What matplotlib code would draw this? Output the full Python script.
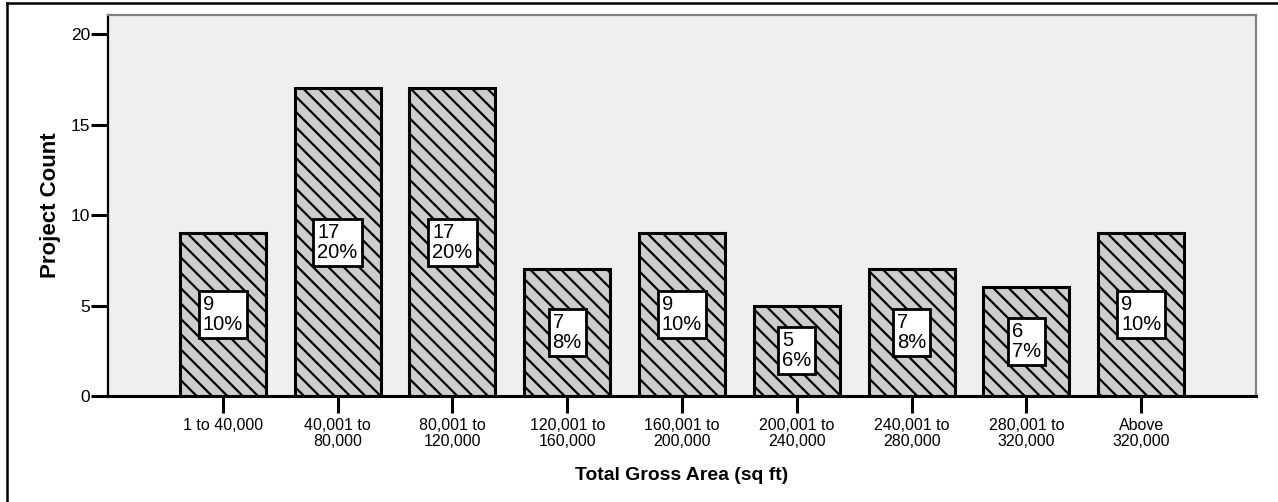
import matplotlib.pyplot as plt
from matplotlib.lines import Line2D

plt.rcParams['font.family'] = ['Liberation Sans', 'DejaVu Sans']

# data
categories = ['1 to 40,000', '40,001 to\n80,000', '80,001 to\n120,000',
              '120,001 to\n160,000', '160,001 to\n200,000', '200,001 to\n240,000',
              '240,001 to\n280,000', '280,001 to\n320,000', 'Above\n320,000']
counts = [9, 17, 17, 7, 9, 5, 7, 6, 9]
percents = ['10%', '20%', '20%', '8%', '10%', '6%', '8%', '7%', '10%']

# dpi 92 so the hatch lines come out at about 7.7px apart;
# s converts sizes worked out for 100 dpi
DPI = 92
s = 100 / DPI
W, H = 1278, 502
plt.rcParams['hatch.linewidth'] = 1.6 * s

fig = plt.figure(figsize=(W / DPI, H / DPI), dpi=DPI)
ax = fig.add_axes([108/W, 106/H, 1148/W, 381/H])
ax.set_facecolor('#efefef')

x = list(range(len(categories)))
ax.bar(x, counts, width=0.75, color='#cdcdcd', edgecolor='black',
       linewidth=2.2 * s, hatch='\\\\', zorder=2)

#white label box in the middle of each bar
for i in x:
    ax.text(i, counts[i] / 2, str(counts[i]) + '\n' + percents[i],
            ha='center', va='center', multialignment='left', fontsize=14.5 * s,
            linespacing=1.05, zorder=3,
            bbox=dict(boxstyle='square,pad=0.2', facecolor='white',
                      edgecolor='black', linewidth=2 * s))

ax.set_xlim(-1, 9)
ax.set_ylim(0, 21.05)
ax.set_xticks(x)
ax.set_xticklabels(categories, fontsize=11.5 * s, linespacing=1.1)
ax.set_yticks([0, 5, 10, 15, 20])
ax.tick_params(axis='both', length=12 * s, width=2.2 * s, pad=1)
ax.tick_params(axis='y', labelsize=12.5 * s)
ax.tick_params(axis='x', pad=4 * s, labelsize=11.5 * s)

for side in ['top', 'right']:
    ax.spines[side].set_color('#808080')
    ax.spines[side].set_linewidth(1.6 * s)
ax.spines['left'].set_linewidth(1.6 * s)
ax.spines['bottom'].set_linewidth(2.2 * s)

ax.set_ylabel('Project Count', fontsize=16 * s, fontweight='bold', labelpad=7 * s)
ax.set_xlabel('Total Gross Area (sq ft)', fontsize=14 * s, fontweight='bold', labelpad=13 * s)

#outer frame (left and top only)
fig.add_artist(Line2D([7/W, 7/W], [0, 1 - 3/H], color='black', linewidth=1.8 * s))
fig.add_artist(Line2D([7/W, 1], [1 - 3/H, 1 - 3/H], color='black', linewidth=1.8 * s))

fig.savefig('out.png', dpi=DPI)
